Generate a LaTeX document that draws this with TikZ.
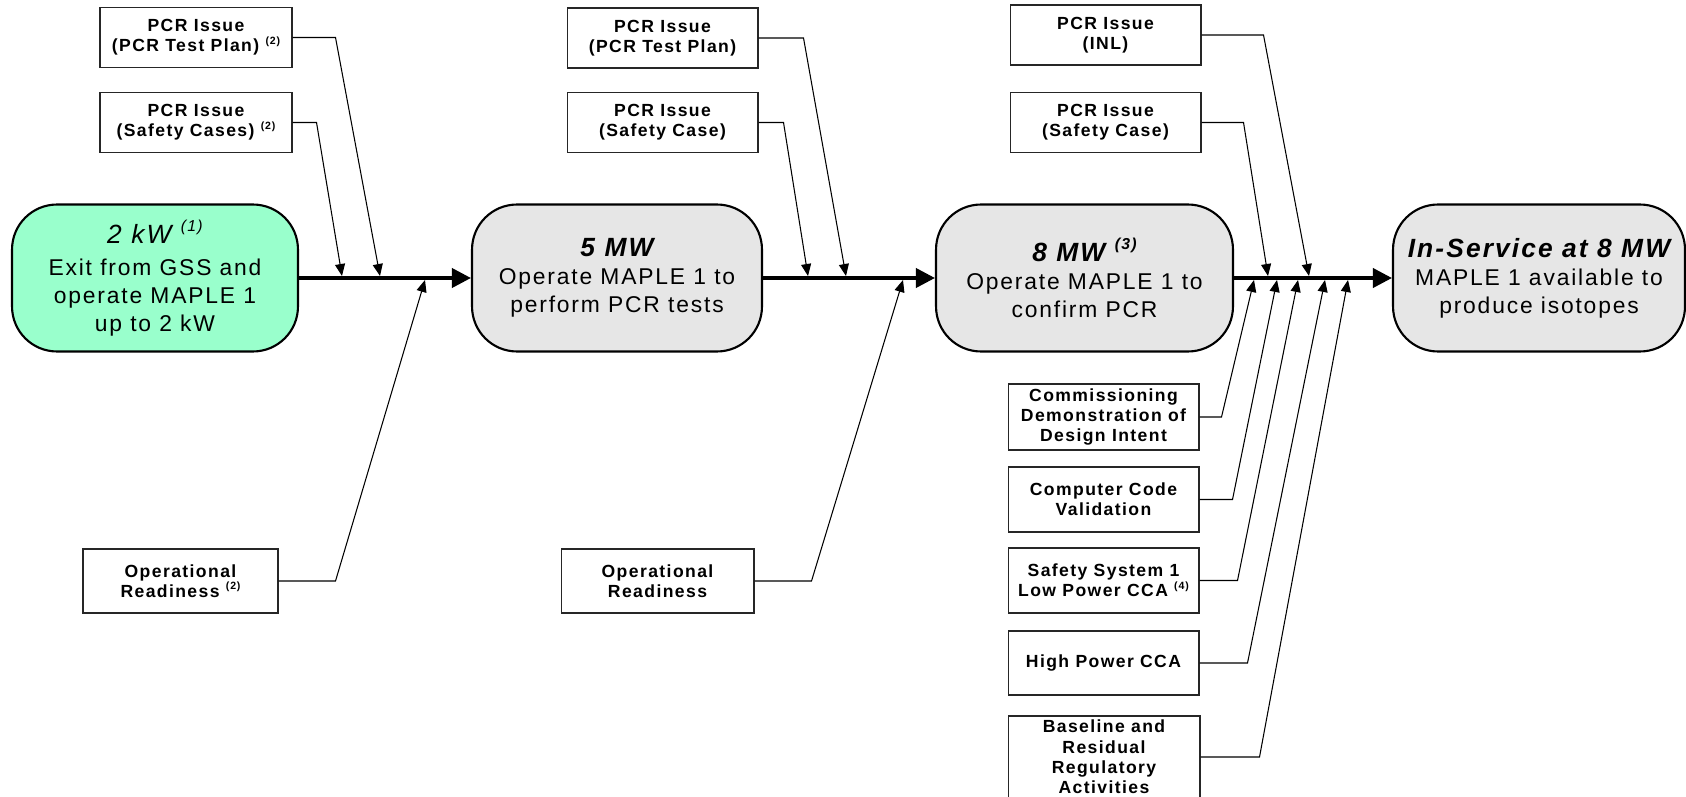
\documentclass[tikz,border=0pt]{standalone}
\usepackage{fontspec}
\setmainfont{Liberation Sans}[LetterSpace=8]
\usetikzlibrary{arrows.meta}
\definecolor{stagegreen}{HTML}{99FFCC}
\definecolor{stagegray}{HTML}{E6E6E6}
\newcommand{\noteref}[1]{\ \raisebox{0.85ex}{\fontsize{6}{6}\selectfont(#1)}}
\newcommand{\stageref}[1]{\ \raisebox{0.9ex}{\fontsize{9}{9}\selectfont(#1)}}
\newcommand{\stagetitle}[1]{{\fontsize{15}{15.9}\selectfont\bfseries\itshape #1}}
\tikzset{
  stage/.style={draw, line width=1.2pt, rounded corners=0.9cm, fill=stagegray,
    minimum width=5.8cm, minimum height=2.94cm, align=center, inner sep=0pt,
    font=\fontsize{13}{15.9}\selectfont},
  reqbox/.style={draw=black!85, line width=0.6pt, minimum width=3.82cm,
    minimum height=1.2cm, align=center, inner sep=0pt,
    font=\bfseries\fontsize{10}{11.6}\selectfont},
  flow/.style={line width=2.1pt, -{Triangle[length=0.38cm,width=0.38cm]}},
  feed/.style={line width=0.6pt, -{Triangle[length=0.24cm,width=0.2cm]}},
}
\begin{document}
\begin{tikzpicture}[x=0.02cm,y=-0.02cm]
  \useasboundingbox (0,0) rectangle (1686,797);

  % stages
  \node[stage, fill=stagegreen, minimum width=5.72cm] (g2kw) at (155,278)
    {{\fontsize{15}{15.9}\selectfont\itshape 2 kW\stageref{1}}\\[2pt]Exit from GSS and\\operate MAPLE 1\\up to 2 kW};
  \node[stage] (m5) at (617,278)
    {\stagetitle{5 MW}\\Operate MAPLE 1 to\\perform PCR tests};
  \node[stage, minimum width=5.94cm] (m8) at (1084.5,278)
    {\stagetitle{8 MW\stageref{3}}\\Operate MAPLE 1 to\\confirm PCR};
  \node[stage, minimum width=5.84cm] (m8s) at (1539,278)
    {\stagetitle{In-Service at 8 MW}\\MAPLE 1 available to\\produce isotopes};

  \draw[flow] (g2kw.east) -- (m5.west);
  \draw[flow] (m5.east) -- (m8.west);
  \draw[flow] (m8.east) -- (m8s.west);

  % inputs to 5 MW
  \node[reqbox, minimum width=3.84cm] (a1) at (196,37.5) {PCR Issue\\(PCR Test Plan)\noteref{2}};
  \node[reqbox, minimum width=3.84cm] (a2) at (196,122.5) {PCR Issue\\(Safety Cases)\noteref{2}};
  \node[reqbox, minimum width=3.9cm, minimum height=1.28cm] (a3) at (180.5,581) {Operational\\Readiness\noteref{2}};

  \coordinate (a1in) at (380,276);
  \coordinate (a2in) at (342,276);
  \coordinate (a3in) at (425,280);
  \draw[feed] (a1.east) -- ++(43,0) -- (a1in);
  \draw[feed] (a2.east) -- ++(24,0) -- (a2in);
  \draw[feed] (a3.east) -- ++(57,0) -- (a3in);

  % inputs to 8 MW
  \node[reqbox] (b1) at (662.5,38) {PCR Issue\\(PCR Test Plan)};
  \node[reqbox] (b2) at (662.5,122.5) {PCR Issue\\(Safety Case)};
  \node[reqbox, minimum width=3.86cm, minimum height=1.28cm] (b3) at (657.5,581) {Operational\\Readiness};

  \coordinate (b1in) at (846,276);
  \coordinate (b2in) at (808,276);
  \coordinate (b3in) at (903,280);
  \draw[feed] (b1.east) -- ++(45,0) -- (b1in);
  \draw[feed] (b2.east) -- ++(25,0) -- (b2in);
  \draw[feed] (b3.east) -- ++(57,0) -- (b3in);

  % inputs to in-service
  \node[reqbox] (c1) at (1105.5,35) {PCR Issue\\(INL)};
  \node[reqbox] (c2) at (1105.5,122.5) {PCR Issue\\(Safety Case)};
  \node[reqbox, minimum height=1.32cm] (d1) at (1103.5,417) {Commissioning\\Demonstration of\\Design Intent};
  \node[reqbox, minimum height=1.3cm] (d2) at (1103.5,499.5) {Computer Code\\Validation};
  \node[reqbox, minimum height=1.3cm] (d3) at (1103.5,580.5) {Safety System 1\\Low Power CCA\noteref{4}};
  \node[reqbox, minimum height=1.28cm] (d4) at (1103.5,663) {High Power CCA};
  \node[reqbox, minimum width=3.84cm, minimum height=1.64cm] (d5) at (1104,757) {Baseline and\\Residual\\Regulatory\\Activities};

  \coordinate (c1in) at (1309,276);
  \coordinate (c2in) at (1268,276);
  \coordinate (d1in) at (1254,280);
  \coordinate (d2in) at (1277,280);
  \coordinate (d3in) at (1298,280);
  \coordinate (d4in) at (1325,280);
  \coordinate (d5in) at (1348,280);
  \draw[feed] (c1.east) -- ++(62,0) -- (c1in);
  \draw[feed] (c2.east) -- ++(42,0) -- (c2in);
  \draw[feed] (d1.east) -- ++(22,0) -- (d1in);
  \draw[feed] (d2.east) -- ++(33,0) -- (d2in);
  \draw[feed] (d3.east) -- ++(38,0) -- (d3in);
  \draw[feed] (d4.east) -- ++(48,0) -- (d4in);
  \draw[feed] (d5.east) -- ++(59,0) -- (d5in);
\end{tikzpicture}
\end{document}
